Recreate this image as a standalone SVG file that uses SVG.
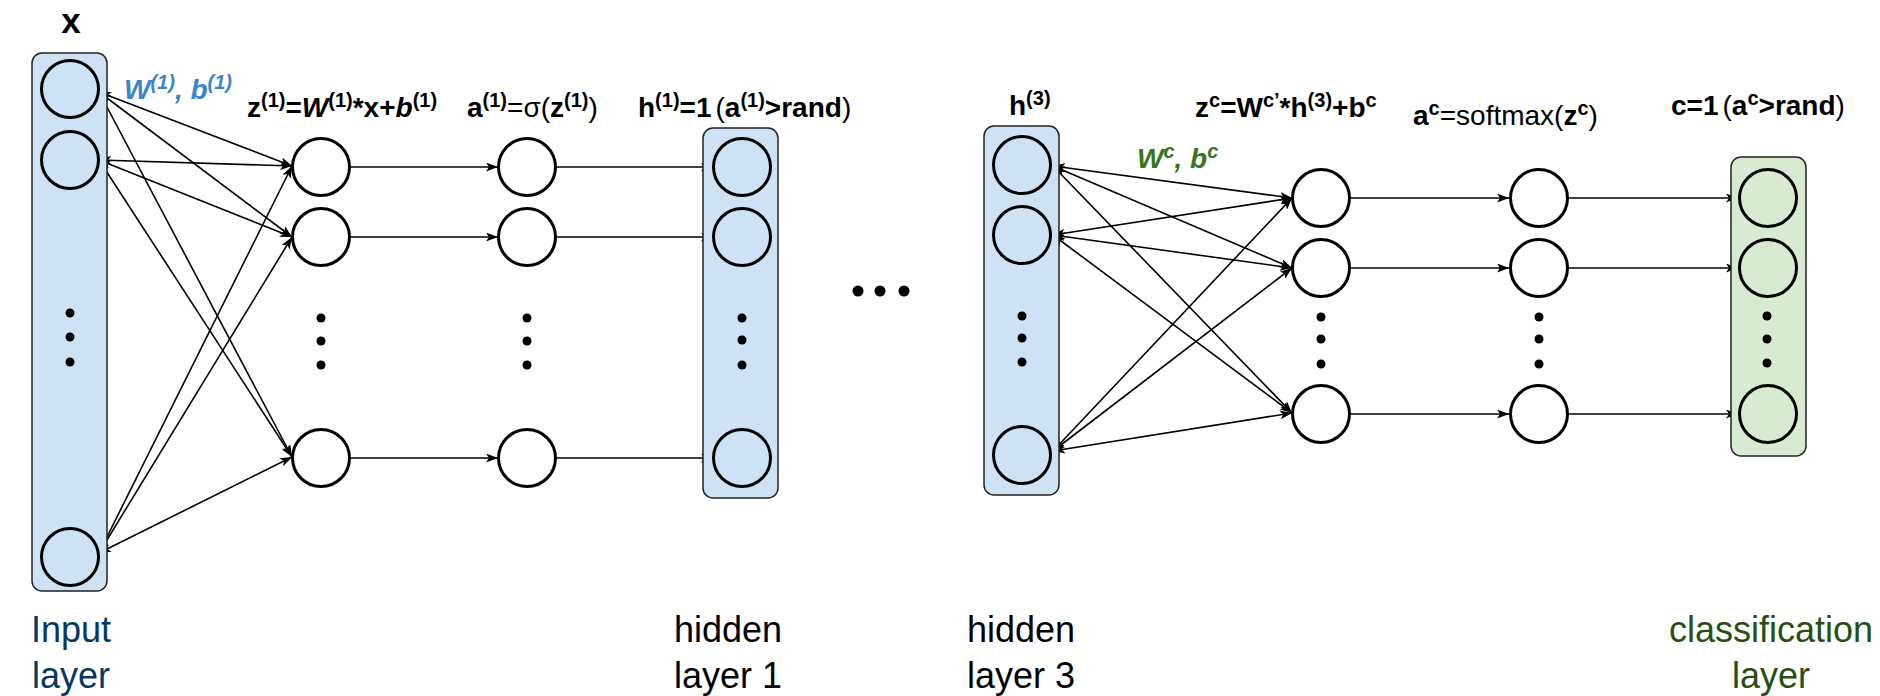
<svg xmlns="http://www.w3.org/2000/svg" width="1880" height="696" viewBox="0 0 1880 696">
<style>
.box{stroke:#222;stroke-width:1.5}
.blue{fill:#cfe2f3}
.green{fill:#d9ead3}
.n{fill:#fff;stroke:#000;stroke-width:3}
.nb{fill:none;stroke:#000;stroke-width:3}
.d{fill:#000}
.e{stroke:#000;stroke-width:1.6;fill:none}
.bi{marker-start:url(#ah);marker-end:url(#ah)}
.uni{marker-end:url(#ah)}
text{font-family:"Liberation Sans",Arial,sans-serif}
.f{font-size:28px;fill:#000}
.b{font-weight:bold}
.r{font-weight:normal}
.i{font-style:italic}
.sup{font-size:20px}
.lab{font-size:36px;text-anchor:middle}
</style>
<defs>
<marker id="ah" viewBox="0 0 12 9" refX="12" refY="4.5" markerWidth="12" markerHeight="9" markerUnits="userSpaceOnUse" orient="auto-start-reverse">
<path d="M0,0 L12,4.5 L0,9 L3,4.5 Z" fill="#000"/>
</marker>
</defs>

<g id="connectors">
<line class="e bi" x1="99" y1="92" x2="292" y2="166"/>
<line class="e bi" x1="99" y1="92" x2="292" y2="237"/>
<line class="e bi" x1="99" y1="92" x2="292" y2="457"/>
<line class="e bi" x1="99" y1="160" x2="292" y2="166"/>
<line class="e bi" x1="99" y1="160" x2="292" y2="237"/>
<line class="e bi" x1="99" y1="160" x2="292" y2="457"/>
<line class="e bi" x1="99" y1="553" x2="292" y2="166"/>
<line class="e bi" x1="99" y1="553" x2="292" y2="237"/>
<line class="e bi" x1="99" y1="553" x2="292" y2="457"/>
<line class="e uni" x1="350" y1="167" x2="498" y2="167"/>
<line class="e uni" x1="350" y1="237" x2="498" y2="237"/>
<line class="e uni" x1="350" y1="458" x2="498" y2="458"/>
<line class="e uni" x1="556" y1="167" x2="713" y2="167"/>
<line class="e uni" x1="556" y1="237" x2="713" y2="237"/>
<line class="e uni" x1="556" y1="458" x2="713" y2="458"/>
<line class="e bi" x1="1053" y1="166" x2="1292" y2="198"/>
<line class="e bi" x1="1053" y1="166" x2="1292" y2="268"/>
<line class="e bi" x1="1053" y1="166" x2="1292" y2="413"/>
<line class="e bi" x1="1053" y1="235" x2="1292" y2="198"/>
<line class="e bi" x1="1053" y1="235" x2="1292" y2="268"/>
<line class="e bi" x1="1053" y1="235" x2="1292" y2="413"/>
<line class="e bi" x1="1053" y1="451" x2="1292" y2="198"/>
<line class="e bi" x1="1053" y1="451" x2="1292" y2="268"/>
<line class="e bi" x1="1053" y1="451" x2="1292" y2="413"/>
<line class="e uni" x1="1350" y1="198" x2="1509" y2="198"/>
<line class="e uni" x1="1350" y1="268" x2="1509" y2="268"/>
<line class="e uni" x1="1350" y1="414" x2="1509" y2="414"/>
<line class="e uni" x1="1568" y1="198" x2="1738" y2="198"/>
<line class="e uni" x1="1568" y1="268" x2="1738" y2="268"/>
<line class="e uni" x1="1568" y1="414" x2="1738" y2="414"/>
</g>

<g id="input-layer">
<rect class="box blue" x="32" y="53" width="75" height="538" rx="10"/>
<circle class="nb" cx="70" cy="89" r="28.5"/>
<circle class="nb" cx="70" cy="160" r="28.5"/>
<circle class="d" cx="70" cy="313" r="4.5"/>
<circle class="d" cx="70" cy="337" r="4.5"/>
<circle class="d" cx="70" cy="362" r="4.5"/>
<circle class="nb" cx="70" cy="557" r="28.5"/>
</g>

<g id="z1-layer">
<circle class="n" cx="321" cy="167" r="28.5"/>
<circle class="n" cx="321" cy="237" r="28.5"/>
<circle class="d" cx="321" cy="318" r="4.5"/>
<circle class="d" cx="321" cy="341" r="4.5"/>
<circle class="d" cx="321" cy="365" r="4.5"/>
<circle class="n" cx="321" cy="458" r="28.5"/>
</g>

<g id="a1-layer">
<circle class="n" cx="527" cy="167" r="28.5"/>
<circle class="n" cx="527" cy="237" r="28.5"/>
<circle class="d" cx="527" cy="318" r="4.5"/>
<circle class="d" cx="527" cy="341" r="4.5"/>
<circle class="d" cx="527" cy="365" r="4.5"/>
<circle class="n" cx="527" cy="458" r="28.5"/>
</g>

<g id="hidden-layer-1">
<rect class="box blue" x="703" y="128" width="75" height="370" rx="10"/>
<circle class="nb" cx="742" cy="167" r="28.5"/>
<circle class="nb" cx="742" cy="237" r="28.5"/>
<circle class="d" cx="742" cy="318" r="4.5"/>
<circle class="d" cx="742" cy="340" r="4.5"/>
<circle class="d" cx="742" cy="365" r="4.5"/>
<circle class="nb" cx="742" cy="458" r="28.5"/>
</g>

<g id="ellipsis">
<circle class="d" cx="858" cy="291" r="5.5"/>
<circle class="d" cx="880" cy="291" r="5.5"/>
<circle class="d" cx="904" cy="291" r="5.5"/>
</g>

<g id="hidden-layer-3">
<rect class="box blue" x="984" y="126" width="75" height="369" rx="10"/>
<circle class="nb" cx="1022" cy="165" r="28.5"/>
<circle class="nb" cx="1022" cy="235" r="28.5"/>
<circle class="d" cx="1022" cy="316" r="4.5"/>
<circle class="d" cx="1022" cy="338" r="4.5"/>
<circle class="d" cx="1022" cy="362" r="4.5"/>
<circle class="nb" cx="1022" cy="455" r="28.5"/>
</g>

<g id="zc-layer">
<circle class="n" cx="1321" cy="198" r="28.5"/>
<circle class="n" cx="1321" cy="268" r="28.5"/>
<circle class="d" cx="1321" cy="317" r="4.5"/>
<circle class="d" cx="1321" cy="339" r="4.5"/>
<circle class="d" cx="1321" cy="364" r="4.5"/>
<circle class="n" cx="1321" cy="414" r="28.5"/>
</g>

<g id="ac-layer">
<circle class="n" cx="1539" cy="198" r="28.5"/>
<circle class="n" cx="1539" cy="268" r="28.5"/>
<circle class="d" cx="1539" cy="317" r="4.5"/>
<circle class="d" cx="1539" cy="339" r="4.5"/>
<circle class="d" cx="1539" cy="364" r="4.5"/>
<circle class="n" cx="1539" cy="414" r="28.5"/>
</g>

<g id="classification-layer">
<rect class="box green" x="1731" y="157" width="75" height="299" rx="10"/>
<circle class="nb" cx="1768" cy="198" r="28.5"/>
<circle class="nb" cx="1768" cy="268" r="28.5"/>
<circle class="d" cx="1767" cy="316" r="4.5"/>
<circle class="d" cx="1767" cy="339" r="4.5"/>
<circle class="d" cx="1767" cy="363" r="4.5"/>
<circle class="nb" cx="1768" cy="414" r="28.5"/>
</g>

<g id="labels">
<text class="b" x="71" y="33" font-size="35" text-anchor="middle">x</text>
<text class="f b i" x="124" y="99" style="fill:#3d85c6">W<tspan class="sup" dy="-10">(1)</tspan><tspan dy="10">, b</tspan><tspan class="sup" dy="-10">(1)</tspan></text>
<text class="f b" x="247" y="117">z<tspan class="sup" dy="-10">(1)</tspan><tspan dy="10">=</tspan><tspan class="i">W</tspan><tspan class="sup" dy="-10">(1)</tspan><tspan dy="10">*x+</tspan><tspan class="i">b</tspan><tspan class="sup" dy="-10">(1)</tspan></text>
<text class="f b" x="467" y="117">a<tspan class="sup" dy="-10">(1)</tspan><tspan class="r" dy="10">=σ(</tspan>z<tspan class="sup" dy="-10">(1)</tspan><tspan class="r" dy="10">)</tspan></text>
<text class="f b" x="638" y="117">h<tspan class="sup" dy="-10">(1)</tspan><tspan dy="10">=1</tspan><tspan class="r" dx="4">(</tspan>a<tspan class="sup" dy="-10">(1)</tspan><tspan dy="10">&gt;rand</tspan><tspan class="r">)</tspan></text>
<text class="f b" x="1009" y="115">h<tspan class="sup" dy="-10">(3)</tspan></text>
<text class="f b" x="1195" y="117">z<tspan class="sup" dy="-10">c</tspan><tspan dy="10">=W</tspan><tspan class="sup" dy="-10">c’</tspan><tspan dy="10">*h</tspan><tspan class="sup" dy="-10">(3)</tspan><tspan dy="10">+b</tspan><tspan class="sup" dy="-10">c</tspan></text>
<text class="f b i" x="1137" y="168" style="fill:#38761d">W<tspan class="sup" dy="-10">c</tspan><tspan dy="10">, b</tspan><tspan class="sup" dy="-10">c</tspan></text>
<text class="f b" x="1413" y="125">a<tspan class="sup" dy="-10">c</tspan><tspan class="r" dy="10">=softmax(</tspan>z<tspan class="sup" dy="-10">c</tspan><tspan class="r" dy="10">)</tspan></text>
<text class="f b" x="1671" y="115">c=1<tspan class="r" dx="4">(</tspan>a<tspan class="sup" dy="-10">c</tspan><tspan dy="10">&gt;rand</tspan><tspan class="r">)</tspan></text>

<text class="lab" x="71" y="642" style="fill:#073763">Input</text>
<text class="lab" x="71" y="688" style="fill:#073763">layer</text>
<text class="lab" x="728" y="642">hidden</text>
<text class="lab" x="728" y="688">layer 1</text>
<text class="lab" x="1021" y="642">hidden</text>
<text class="lab" x="1021" y="688">layer 3</text>
<text class="lab" x="1771" y="642" style="fill:#274e13">classification</text>
<text class="lab" x="1771" y="688" style="fill:#274e13">layer</text>
</g>
</svg>
